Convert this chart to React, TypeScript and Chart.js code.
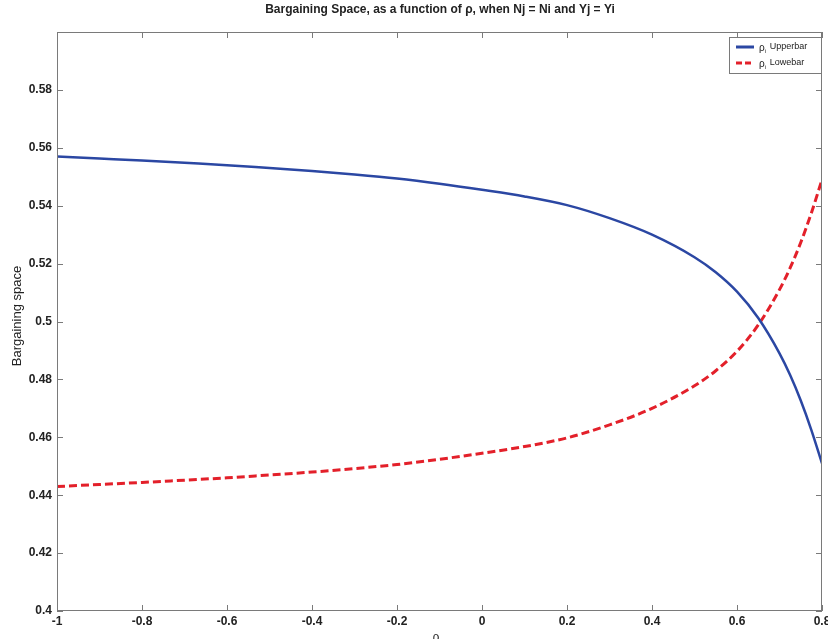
import React, { useEffect, useRef } from "react";
import { Chart, registerables } from "chart.js";

Chart.register(...registerables);

const rhoValues = [-1, -0.9, -0.8, -0.7, -0.6, -0.5, -0.4, -0.3, -0.2, -0.1, 0, 0.1, 0.2, 0.3, 0.4, 0.5, 0.55, 0.6, 0.65, 0.7, 0.725, 0.75, 0.775, 0.8];
const upperValues = [0.557, 0.5563, 0.5556, 0.5548, 0.554, 0.553, 0.552, 0.5508, 0.5494, 0.5476, 0.5455, 0.5432, 0.5402, 0.5357, 0.53, 0.5222, 0.517, 0.5103, 0.5012, 0.489, 0.4815, 0.4727, 0.4625, 0.451];
const lowerValues = [0.443, 0.4437, 0.4444, 0.4452, 0.446, 0.447, 0.448, 0.4492, 0.4506, 0.4524, 0.4545, 0.4568, 0.4598, 0.4643, 0.47, 0.4778, 0.483, 0.4897, 0.4988, 0.511, 0.5185, 0.5273, 0.5375, 0.549];

const xTicks = [-1, -0.8, -0.6, -0.4, -0.2, 0, 0.2, 0.4, 0.6, 0.8];
const yTicks = [0.4, 0.42, 0.44, 0.46, 0.48, 0.5, 0.52, 0.54, 0.56, 0.58, 0.6];

const titleText = "Bargaining Space, as a function of \u03c1, when Nj = Ni and Yj = Yi";
const yTitle = "Bargaining space";
const xTitle = "\u03c1";
const seriesNames = ["Upperbar", "Lowebar"];

const BLUE = "#2b47a3";
const RED = "#e3202a";
const FONT = "'Liberation Sans', Arial, sans-serif";

const fmt = (v: number) => String(Number(v.toFixed(2)));

const decorPlugin = {
  id: "decor",
  afterDatasetsDraw(chart: any) {
    const { ctx, chartArea, scales } = chart;
    const { left, right, top, bottom } = chartArea;
    const xs = scales.x;
    const ys = scales.y;
    ctx.save();
    // box
    ctx.strokeStyle = "#7a7a7a";
    ctx.lineWidth = 1;
    ctx.strokeRect(Math.round(left) + 0.5, Math.round(top) + 0.5, Math.round(right - left) - 1, Math.round(bottom - top) - 1);
    // inward ticks
    const tl = 6;
    ctx.beginPath();
    xTicks.forEach((v) => {
      const px = Math.round(xs.getPixelForValue(v)) + 0.5;
      ctx.moveTo(px, bottom);
      ctx.lineTo(px, bottom - tl);
      ctx.moveTo(px, top);
      ctx.lineTo(px, top + tl);
    });
    yTicks.forEach((v) => {
      const py = Math.round(ys.getPixelForValue(v)) + 0.5;
      ctx.moveTo(left, py);
      ctx.lineTo(left + tl, py);
      ctx.moveTo(right, py);
      ctx.lineTo(right - tl, py);
    });
    ctx.stroke();

    // title
    ctx.fillStyle = "#222";
    ctx.font = `bold 12px ${FONT}`;
    ctx.textAlign = "center";
    ctx.textBaseline = "middle";
    ctx.fillText(titleText, 440, 10);

    // x title
    ctx.font = `12px ${FONT}`;
    ctx.fillText(xTitle, 436, 638);

    // y title
    ctx.save();
    ctx.translate(17, 316);
    ctx.rotate(-Math.PI / 2);
    ctx.font = `13px ${FONT}`;
    ctx.fillText(yTitle, 0, 0);
    ctx.restore();

    // legend
    const lx = 729, ly = 37, lw = right - 729 - 1, lh = 36;
    ctx.fillStyle = "#fff";
    ctx.fillRect(lx, ly, lw, lh);
    ctx.strokeStyle = "#7a7a7a";
    ctx.strokeRect(lx + 0.5, ly + 0.5, lw, lh);
    const rows = [
      { color: BLUE, dash: [] as number[], y: ly + 10 },
      { color: RED, dash: [6, 3], y: ly + 26 },
    ];
    rows.forEach((r, i) => {
      ctx.beginPath();
      ctx.setLineDash(r.dash);
      ctx.strokeStyle = r.color;
      ctx.lineWidth = 3;
      ctx.moveTo(736, r.y);
      ctx.lineTo(754, r.y);
      ctx.stroke();
      ctx.setLineDash([]);
      ctx.fillStyle = "#222";
      ctx.textAlign = "left";
      ctx.textBaseline = "middle";
      ctx.font = `10px ${FONT}`;
      ctx.fillText("\u03c1", 759, r.y + 1);
      const w = ctx.measureText("\u03c1").width;
      ctx.font = `6px ${FONT}`;
      ctx.fillText("i", 759 + w, r.y + 4);
      ctx.font = `9px ${FONT}`;
      ctx.fillText(seriesNames[i], 759 + w + 5, r.y);
    });
    ctx.restore();
  },
};

export default function App() {
  const ref = useRef<HTMLCanvasElement | null>(null);
  useEffect(() => {
    if (!ref.current) return;
    const chart = new Chart(ref.current, {
      type: "line",
      data: {
        datasets: [
          {
            label: seriesNames[0],
            data: rhoValues.map((x, i) => ({ x, y: upperValues[i] })),
            borderColor: BLUE,
            borderWidth: 2.5,
            pointRadius: 0,
            cubicInterpolationMode: "monotone",
            fill: false,
          },
          {
            label: seriesNames[1],
            data: rhoValues.map((x, i) => ({ x, y: lowerValues[i] })),
            borderColor: RED,
            borderWidth: 3,
            borderDash: [8, 4],
            pointRadius: 0,
            cubicInterpolationMode: "monotone",
            fill: false,
          },
        ],
      },
      options: {
        animation: false,
        responsive: false,
        maintainAspectRatio: false,
        devicePixelRatio: 1,
        layout: { padding: { top: 32, right: 6, left: 0, bottom: 0 } },
        plugins: { legend: { display: false }, title: { display: false }, tooltip: { enabled: false } },
        scales: {
          x: {
            type: "linear",
            min: -1,
            max: 0.8,
            grid: { display: false },
            border: { display: false },
            afterBuildTicks: (s: any) => {
              s.ticks = xTicks.map((v) => ({ value: v }));
            },
            afterFit: (s: any) => {
              s.height = 28;
              s.paddingLeft = 0;
              s.paddingRight = 0;
            },
            ticks: {
              autoSkip: false,
              maxRotation: 0,
              padding: -5,
              color: "#222",
              font: { family: FONT, size: 12, weight: "bold" },
              callback: (v: any) => fmt(Number(v)),
            },
          },
          y: {
            min: 0.4,
            max: 0.6,
            grid: { display: false },
            border: { display: false },
            afterBuildTicks: (s: any) => {
              s.ticks = yTicks.map((v) => ({ value: v }));
            },
            afterFit: (s: any) => {
              s.width = 57;
              s.paddingTop = 0;
              s.paddingBottom = 0;
            },
            ticks: {
              autoSkip: false,
              padding: -3,
              color: "#222",
              font: { family: FONT, size: 12, weight: "bold" },
              callback: (v: any) => (Math.abs(Number(v) - 0.6) < 1e-9 ? "" : fmt(Number(v))),
            },
          },
        },
      },
      plugins: [decorPlugin],
    } as any);
    return () => chart.destroy();
  }, []);
  return (
    <div style={{ position: "absolute", left: 0, top: 0, width: 828, height: 639, background: "#fff" }}>
      <canvas ref={ref} width={828} height={639} />
    </div>
  );
}
